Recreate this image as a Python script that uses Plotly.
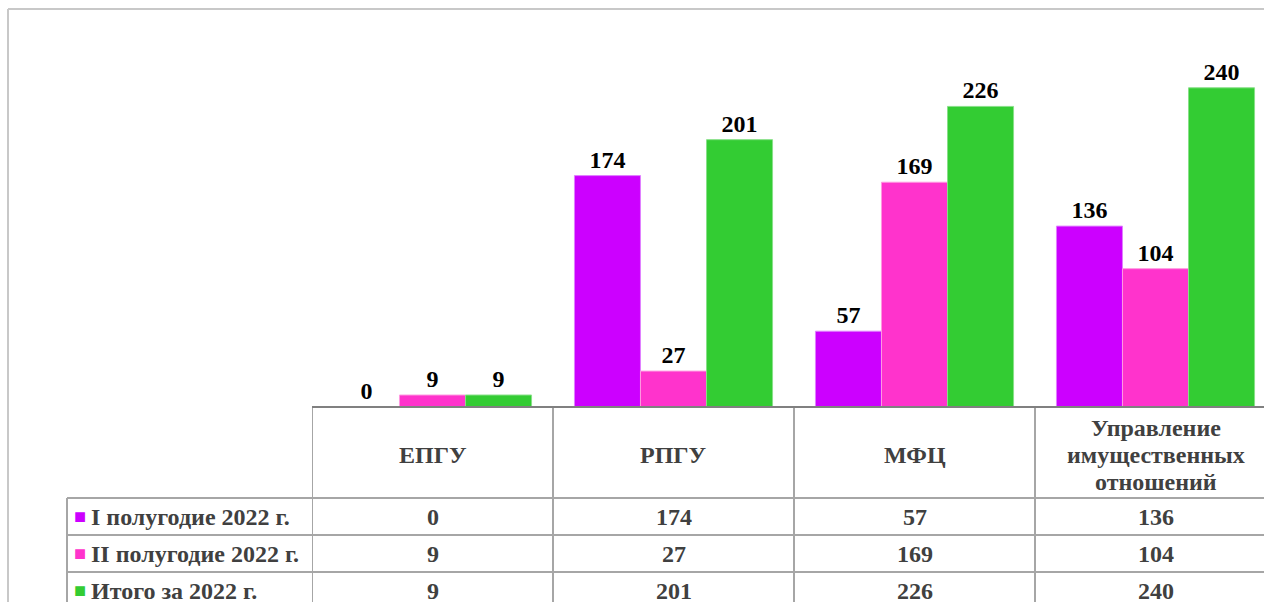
import plotly.graph_objects as go

categories = ['ЕПГУ', 'РПГУ', 'МФЦ', 'Управление<br>имущественных<br>отношений']
series_names = ['I полугодие 2022 г.', 'II полугодие 2022 г.', 'Итого за 2022 г.']
h1_2022 = [0, 174, 57, 136]
h2_2022 = [9, 27, 169, 104]
total_2022 = [9, 201, 226, 240]
colors = ['#CC00FF', '#FF33CC', '#33CC33']
edges = ['#E080FF', '#FF99E0', '#88E088']

W, H = 1264, 602


def px(x):
    return x / W


def py(y):
    return 1 - y / H


fig = go.Figure()
xs = list(range(len(categories)))
for name, vals, c, e in zip(series_names, [h1_2022, h2_2022, total_2022], colors, edges):
    fig.add_trace(go.Bar(
        x=xs, y=vals, name=name,
        marker=dict(color=c, line=dict(color=e, width=1)),
        text=['<b>%d</b>' % v for v in vals], textposition='outside',
        textfont=dict(family='Liberation Serif', size=24, color='black'),
        cliponaxis=False,
    ))

font_tab = dict(family='Liberation Serif', size=24, color='#404040')
line_c = '#A6A6A6'
shapes = []
annotations = []

# outer chart border (only top and left are visible)
shapes.append(dict(type='line', xref='paper', yref='paper', x0=px(8), x1=1, y0=py(9), y1=py(9),
                   line=dict(color='#C8C8C8', width=2), layer='below'))
shapes.append(dict(type='line', xref='paper', yref='paper', x0=px(8), x1=px(8), y0=py(9), y1=0,
                   line=dict(color='#C8C8C8', width=2), layer='below'))

# table row lines
rows_y = [498, 535, 572]
for y in rows_y:
    shapes.append(dict(type='line', xref='paper', yref='paper', x0=px(67), x1=1, y0=py(y), y1=py(y),
                       line=dict(color=line_c, width=2)))
# legend column left border
shapes.append(dict(type='line', xref='paper', yref='paper', x0=px(67), x1=px(67), y0=py(498), y1=0,
                   line=dict(color=line_c, width=2)))
# category column borders
for i in range(len(categories)):
    shapes.append(dict(type='line', xref='x', yref='paper', x0=i - 0.5, x1=i - 0.5, y0=py(407), y1=0,
                       line=dict(color=line_c, width=2)))
# axis line
shapes.append(dict(type='line', xref='paper', yref='paper', x0=px(312), x1=1, y0=py(407), y1=py(407),
                   line=dict(color='#808080', width=2)))

# header text, one annotation per line so the spacing matches
for i, cat in enumerate(categories):
    parts = cat.split('<br>')
    n = len(parts)
    for k, part in enumerate(parts):
        yc = 455 + (k - (n - 1) / 2) * 27.5
        annotations.append(dict(x=i, y=py(yc), xref='x', yref='paper', text='<b>%s</b>' % part,
                                showarrow=False, font=font_tab, xanchor='center', yanchor='middle'))

# rows
row_centers = [517, 554, 591]
for name, vals, c, yc in zip(series_names, [h1_2022, h2_2022, total_2022], colors, row_centers):
    annotations.append(dict(x=px(72), y=py(yc - 1), xref='paper', yref='paper', text='■',
                            showarrow=False, font=dict(size=20, color=c), xanchor='left', yanchor='middle'))
    annotations.append(dict(x=px(89), y=py(yc), xref='paper', yref='paper', text='<b>%s</b>' % name,
                            showarrow=False, font=font_tab, xanchor='left', yanchor='middle'))
    for i, v in enumerate(vals):
        annotations.append(dict(x=i, y=py(yc), xref='x', yref='paper', text='<b>%d</b>' % v,
                                showarrow=False, font=font_tab, xanchor='center', yanchor='middle'))

fig.update_layout(
    width=W, height=H,
    margin=dict(l=0, r=0, t=0, b=0),
    paper_bgcolor='white', plot_bgcolor='white',
    barmode='group', bargap=0.178, bargroupgap=0,
    showlegend=False,
    xaxis=dict(domain=[px(312), 1], range=[-0.5, -0.5 + (W - 312) / 241], showticklabels=False,
               showgrid=False, zeroline=False, showline=False, fixedrange=True),
    yaxis=dict(domain=[py(407), py(8)], range=[0, 300], showticklabels=False, showgrid=False,
               zeroline=False, showline=False, fixedrange=True),
    shapes=shapes, annotations=annotations,
    font=dict(family='Liberation Serif'),
)

fig.write_html('out.html', config={'displayModeBar': False},
               post_script="document.body.style.margin='0';document.body.style.overflow='hidden';")
